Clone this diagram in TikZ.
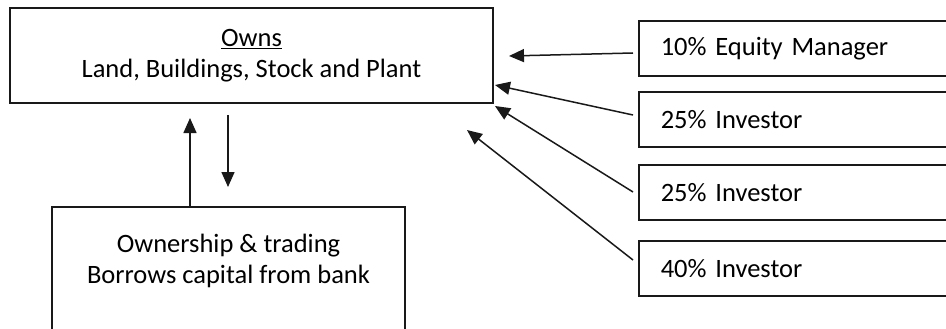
\documentclass[tikz,border=0pt]{standalone}
\usepackage{fontspec}
\setmainfont{Carlito}
\usetikzlibrary{arrows.meta}
\tikzset{
  box/.style={draw=black!90, line width=1.5pt, rectangle, inner sep=0pt},
  lbox/.style={box, minimum width=330pt, minimum height=55pt, anchor=west,
    text width=286pt, align=left, inner xsep=22pt},
  conn/.style={draw=black!90, line width=1.5pt, -{Triangle[length=15pt,width=13pt]}},
}
\begin{document}
\begin{tikzpicture}[x=1pt,y=-1pt,font=\fontsize{26.5}{31}\selectfont, text=black]
\useasboundingbox (0,0) rectangle (946,329);
\clip (0,0) rectangle (946,329);
\fill[white] (0,0) rectangle (946,329);
% main boxes
\node[box, minimum width=483pt, minimum height=95pt, align=center] (own) at (251.5,55.5)
  {\underline{Owns}\\Land, Buildings, Stock and Plant};
\node[box, minimum width=353pt, minimum height=134pt, align=center] (trade) at (228.5,274)
  {Ownership \& trading\\Borrows capital from bank\\\mbox{}};
% right boxes
\node[lbox] (m1) at (638,48.5) {10\% Equity Manager};
\node[lbox] (m2) at (638,119.5) {25\% Investor};
\node[lbox] (m3) at (638,192.5) {25\% Investor};
\node[lbox] (m4) at (638,268.5) {40\% Investor};
% connector ends
\coordinate (s1) at (633,53);
\coordinate (s2) at (633,115);
\coordinate (s3) at (633,192);
\coordinate (s4) at (633,260);
\coordinate (t1) at (509,56);
\coordinate (t2) at (495,85);
\coordinate (t3) at (495,106);
\coordinate (t4) at (467,130);
\coordinate (upS) at (190,207);
\coordinate (upT) at (190,118);
\coordinate (dnS) at (228,115);
\coordinate (dnT) at (228,187);
\draw[conn] (s1) -- (t1);
\draw[conn] (s2) -- (t2);
\draw[conn] (s3) -- (t3);
\draw[conn] (s4) -- (t4);
\draw[conn] (upS) -- (upT);
\draw[conn] (dnS) -- (dnT);
\end{tikzpicture}
\end{document}
